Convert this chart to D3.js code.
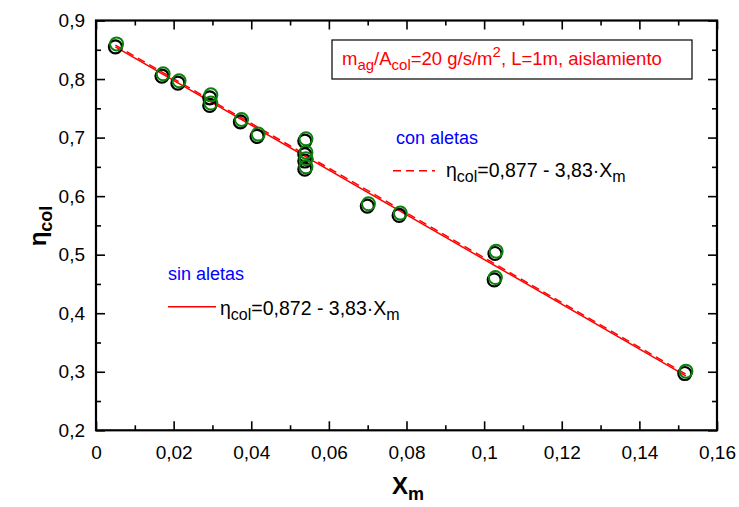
<!DOCTYPE html>
<html><head><meta charset="utf-8">
<script src="https://cdn.jsdelivr.net/npm/d3@7"></script>
<style>body{margin:0;background:#fff}svg{display:block;font-family:"Liberation Sans",Arial,sans-serif}</style>
</head><body><svg id="c" width="739" height="507"></svg>
<script>
const xTicks=[0,0.02,0.04,0.06,0.08,0.1,0.12,0.14,0.16];
const xTickLabels=["0","0,02","0,04","0,06","0,08","0,1","0,12","0,14","0,16"];
const xMinorTicks=[0.01,0.03,0.05,0.07,0.09,0.11,0.13,0.15];
const yTicks=[0.2,0.3,0.4,0.5,0.6,0.7,0.8,0.9];
const yTickLabels=["0,2","0,3","0,4","0,5","0,6","0,7","0,8","0,9"];
const yMinorTicks=[0.25,0.35,0.45,0.55,0.65,0.75,0.85];

// con aletas (green)
const conX=[0.0053,0.0173,0.0214,0.0296,0.0296,0.0375,0.0418,0.0541,0.0541,0.0541,0.0541,0.0702,0.0784,0.1031,0.1029,0.1520];
const conY=[0.860,0.809,0.797,0.773,0.759,0.731,0.706,0.698,0.675,0.664,0.650,0.587,0.571,0.506,0.461,0.301];
// sin aletas (black)
const sinX=[0.0050,0.0170,0.0211,0.0293,0.0293,0.0372,0.0415,0.0538,0.0538,0.0538,0.0538,0.0699,0.0781,0.1028,0.1026,0.1517];
const sinY=[0.855,0.805,0.793,0.768,0.755,0.727,0.702,0.694,0.671,0.660,0.646,0.583,0.567,0.502,0.457,0.297];

// fitted lines (end points)
const conFitX=[0.005,0.152], conFitY=[0.858,0.296];
const sinFitX=[0.005,0.152], sinFitY=[0.855,0.293];

const svg=d3.select("#c");
const L=96,R=717,T=20.5,B=430.3;
const x=d3.scaleLinear().domain([0,0.16]).range([L,R]);
const y=d3.scaleLinear().domain([0.2,0.9]).range([B,T]);
const FF="Liberation Sans, Arial, sans-serif";

function styleAxis(g){g.select(".domain").remove();g.selectAll("line").attr("stroke","#000").attr("stroke-width",1.6);}
const MAJ=9,MIN=5;
// bottom
svg.append("g").attr("transform",`translate(0,${B})`).call(d3.axisBottom(x).tickValues(xTicks).tickFormat((d,i)=>xTickLabels[i]).tickSize(-MAJ).tickPadding(15)).call(styleAxis)
 .selectAll("text").attr("font-size",19).attr("fill","#000").attr("font-family",FF);
svg.append("g").attr("transform",`translate(0,${B})`).call(d3.axisBottom(x).tickValues(xMinorTicks).tickFormat("").tickSize(-MIN)).call(styleAxis);
// top
svg.append("g").attr("transform",`translate(0,${T})`).call(d3.axisTop(x).tickValues(xTicks).tickFormat("").tickSize(-MAJ)).call(styleAxis);
svg.append("g").attr("transform",`translate(0,${T})`).call(d3.axisTop(x).tickValues(xMinorTicks).tickFormat("").tickSize(-MIN)).call(styleAxis);
// left
svg.append("g").attr("transform",`translate(${L},0)`).call(d3.axisLeft(y).tickValues(yTicks).tickFormat((d,i)=>yTickLabels[i]).tickSize(-MAJ).tickPadding(11)).call(styleAxis)
 .selectAll("text").attr("font-size",19).attr("fill","#000").attr("font-family",FF);
svg.append("g").attr("transform",`translate(${L},0)`).call(d3.axisLeft(y).tickValues(yMinorTicks).tickFormat("").tickSize(-MIN)).call(styleAxis);
// right
svg.append("g").attr("transform",`translate(${R},0)`).call(d3.axisRight(y).tickValues(yTicks).tickFormat("").tickSize(-MAJ)).call(styleAxis);
svg.append("g").attr("transform",`translate(${R},0)`).call(d3.axisRight(y).tickValues(yMinorTicks).tickFormat("").tickSize(-MIN)).call(styleAxis);

// frame
svg.append("rect").attr("x",L).attr("y",T).attr("width",R-L).attr("height",B-T).attr("fill","none").attr("stroke","#000").attr("stroke-width",2.2);

// fit lines
const line=d3.line().x(d=>x(d[0])).y(d=>y(d[1]));
svg.append("path").datum(sinFitX.map((v,i)=>[v,sinFitY[i]])).attr("d",line).attr("fill","none").attr("stroke","#ff0000").attr("stroke-width",1.5);
svg.append("path").datum(conFitX.map((v,i)=>[v,conFitY[i]])).attr("d",line).attr("fill","none").attr("stroke","#ff0000").attr("stroke-width",1.5).attr("stroke-dasharray","8,5");

// points
svg.append("g").selectAll("circle").data(sinX.map((v,i)=>[v,sinY[i]])).join("circle")
 .attr("cx",d=>x(d[0])).attr("cy",d=>y(d[1])).attr("r",6.5).attr("fill","none").attr("stroke","#000").attr("stroke-width",2.2);
svg.append("g").selectAll("circle").data(conX.map((v,i)=>[v,conY[i]])).join("circle")
 .attr("cx",d=>x(d[0])).attr("cy",d=>y(d[1])).attr("r",6.5).attr("fill","none").attr("stroke","#0b820b").attr("stroke-width",2);

// info box
svg.append("rect").attr("x",332).attr("y",40).attr("width",360).attr("height",39).attr("fill","#fff").attr("stroke","#000").attr("stroke-width",1.2);
const t1=svg.append("text").attr("x",342).attr("y",65).attr("fill","#ff0000").attr("font-size",18.5);
t1.append("tspan").text("m");
t1.append("tspan").attr("dy",5).attr("font-size",15).text("ag");
t1.append("tspan").attr("dy",-5).text("/A");
t1.append("tspan").attr("dy",5).attr("font-size",15).text("col");
t1.append("tspan").attr("dy",-5).text("=20 g/s/m");
t1.append("tspan").attr("dy",-8).attr("font-size",15).text("2");
t1.append("tspan").attr("dy",8).text(", L=1m, aislamiento");

// con aletas legend
svg.append("text").attr("x",396).attr("y",143.5).attr("fill","#0000ff").attr("font-size",18).text("con aletas");
svg.append("line").attr("x1",393).attr("x2",435).attr("y1",170.7).attr("y2",170.7).attr("stroke","#ff0000").attr("stroke-width",1.5).attr("stroke-dasharray","8,5");
function eq(xp,yp,txt){
  const t=svg.append("text").attr("x",xp).attr("y",yp).attr("fill","#000").attr("font-size",19.5);
  t.append("tspan").text("η");
  t.append("tspan").attr("dy",5).attr("font-size",16).text("col");
  t.append("tspan").attr("dy",-5).text(txt);
  t.append("tspan").attr("dy",5).attr("font-size",16).text("m");
}
eq(446,176.5,"=0,877 - 3,83·X");
// sin aletas legend
svg.append("text").attr("x",168).attr("y",279.5).attr("fill","#0000ff").attr("font-size",18).text("sin aletas");
svg.append("line").attr("x1",168).attr("x2",216).attr("y1",306.7).attr("y2",306.7).attr("stroke","#ff0000").attr("stroke-width",1.5);
eq(220,314.5,"=0,872 - 3,83·X");

// axis titles
const yl=svg.append("text").attr("transform","translate(46,226) rotate(-90)").attr("text-anchor","middle").attr("font-size",24).attr("font-weight","bold").attr("fill","#000");
yl.append("tspan").text("η");
yl.append("tspan").attr("dy",6).attr("font-size",18).text("col");
const xl=svg.append("text").attr("x",408).attr("y",494).attr("text-anchor","middle").attr("font-size",24).attr("font-weight","bold").attr("fill","#000");
xl.append("tspan").text("X");
xl.append("tspan").attr("dy",6).attr("font-size",18).text("m");
</script></body></html>
